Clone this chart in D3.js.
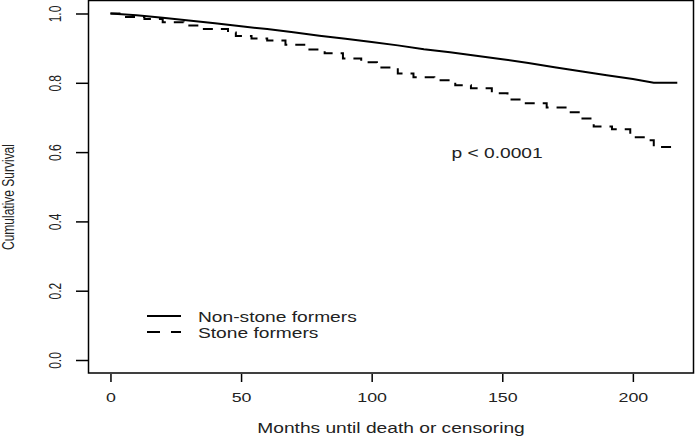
<!DOCTYPE html>
<html>
<head>
<meta charset="utf-8">
<script src="https://cdn.jsdelivr.net/npm/d3@7"></script>
<style>
  html, body { margin: 0; padding: 0; background: #fff; }
  svg { display: block; }
  text { font-family: "Liberation Sans", Arial, sans-serif; fill: #222; }
</style>
</head>
<body>
<svg id="chart" width="699" height="436"></svg>
<script>
// ---- Data ----
const xTicks = [0, 50, 100, 150, 200];
const yTicks = [0.0, 0.2, 0.4, 0.6, 0.8, 1.0];

const nonStoneMonths   = [0, 10, 20, 30, 40, 50, 60, 70, 80, 90, 100, 110, 120, 130, 140, 150, 160, 170, 180, 190, 200, 208, 217];
const nonStoneSurvival = [1.0, 0.995, 0.988, 0.980, 0.972, 0.963, 0.955, 0.946, 0.936, 0.927, 0.918, 0.908, 0.897, 0.888, 0.878, 0.868, 0.857, 0.845, 0.833, 0.822, 0.811, 0.800, 0.800];

const stoneMonths   = [0, 5, 13, 20, 28, 35, 45, 48, 54, 60, 67, 75, 82, 89, 96, 102, 110, 116, 124, 132, 138, 146, 152, 159, 167, 175, 180, 185, 192, 199, 205, 208, 216];
const stoneSurvival = [1.0, 0.99, 0.984, 0.975, 0.965, 0.955, 0.945, 0.935, 0.928, 0.922, 0.91, 0.896, 0.885, 0.870, 0.859, 0.844, 0.827, 0.816, 0.807, 0.793, 0.784, 0.770, 0.752, 0.741, 0.729, 0.715, 0.697, 0.674, 0.666, 0.643, 0.634, 0.615, 0.615];

const seriesNames = ["Non-stone formers", "Stone formers"];
const pLabel = "p < 0.0001";
const xTitle = "Months until death or censoring";
const yTitle = "Cumulative Survival";

// ---- Layout ----
const svg = d3.select("#chart");
const box = { left: 88, right: 694, top: 0.5, bottom: 373 };
const SX = 1.37; // horizontal stretch of the reference's text

const x = d3.scaleLinear().domain([-8.6, 223.4]).range([box.left, box.right]);
const y = d3.scaleLinear().domain([-0.0375, 1.0375]).range([box.bottom, box.top]);

// plot box
svg.append("rect")
  .attr("x", box.left + 0.5).attr("y", box.top)
  .attr("width", box.right - box.left - 1).attr("height", box.bottom - box.top)
  .attr("fill", "none").attr("stroke", "#000").attr("stroke-width", 1.5);

// x axis
const xAxis = d3.axisBottom(x).tickValues(xTicks).tickFormat(d3.format("d")).tickSize(8).tickSizeOuter(0);
const gx = svg.append("g").attr("transform", `translate(0,${box.bottom + 1})`).call(xAxis);
gx.select(".domain").remove();
gx.selectAll(".tick line").attr("stroke", "#000").attr("stroke-width", 1.5);
gx.selectAll(".tick text").attr("dy", null).attr("y", null)
  .attr("transform", `translate(0,28) scale(${SX},1)`)
  .style("font-size", "13px").style("font-family", "Liberation Sans, Arial, sans-serif").attr("fill", "#222");

// y axis
const yAxis = d3.axisLeft(y).tickValues(yTicks).tickFormat(d3.format(".1f")).tickSize(12).tickSizeOuter(0);
const gy = svg.append("g").attr("transform", `translate(${box.left},0)`).call(yAxis);
gy.select(".domain").remove();
gy.selectAll(".tick line").attr("stroke", "#000").attr("stroke-width", 1.5);
gy.selectAll(".tick text")
  .attr("x", null).attr("dy", null)
  .attr("text-anchor", "middle")
  .attr("transform", `translate(-33,0) rotate(-90) scale(1,${SX})`)
  .attr("dy", "0.35em")
  .style("font-size", "12px").style("font-family", "Liberation Sans, Arial, sans-serif").attr("fill", "#222");

// axis titles
svg.append("text").attr("transform", `translate(${(box.left + box.right) / 2},433) scale(${SX},1)`)
  .attr("text-anchor", "middle").style("font-size", "14px").text(xTitle);
svg.append("text").attr("transform", `translate(14,197) rotate(-90) scale(1,${SX})`)
  .attr("text-anchor", "middle")
  .style("font-size", "12px")
  .text(yTitle);

// curves
const smooth = d3.line().x(d => x(d[0])).y(d => y(d[1]));
const step = d3.line().x(d => x(d[0])).y(d => y(d[1])).curve(d3.curveStepAfter);
const nonStone = nonStoneMonths.map((m, i) => [m, nonStoneSurvival[i]]);
const stone = stoneMonths.map((m, i) => [m, stoneSurvival[i]]);

svg.append("path").datum(nonStone).attr("d", smooth)
  .attr("fill", "none").attr("stroke", "#000").attr("stroke-width", 2);
svg.append("path").datum(stone).attr("d", step)
  .attr("fill", "none").attr("stroke", "#000").attr("stroke-width", 2)
  .attr("stroke-dasharray", "10,8");

// p-value
svg.append("text").attr("transform", `translate(${x(148)},158) scale(${SX},1)`).attr("text-anchor", "middle")
  .style("font-size", "14px").text(pLabel);

// legend
const leg = svg.append("g");
const legItems = [
  { name: seriesNames[0], dash: null, y: 316 },
  { name: seriesNames[1], dash: "13,11", y: 332 }
];
legItems.forEach(it => {
  leg.append("line").attr("x1", 147).attr("x2", 181).attr("y1", it.y).attr("y2", it.y)
    .attr("stroke", "#000").attr("stroke-width", 2).attr("stroke-dasharray", it.dash);
  leg.append("text").attr("transform", `translate(198,${it.y + 6}) scale(${SX},1)`)
    .style("font-size", "14px").text(it.name);
});
</script>
</body>
</html>
